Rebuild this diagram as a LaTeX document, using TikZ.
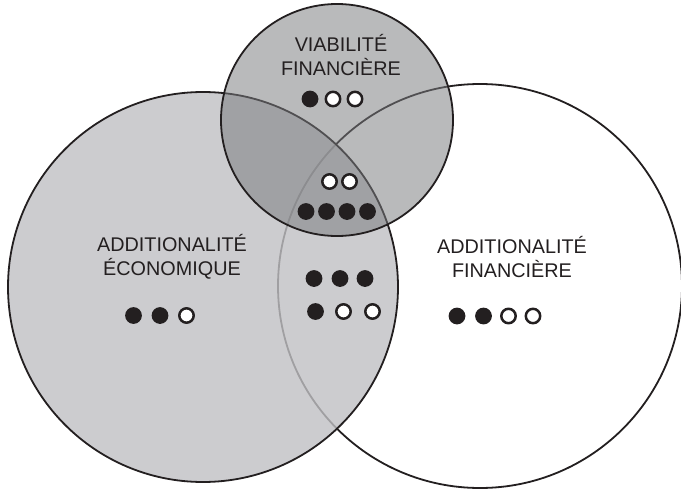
\documentclass[tikz,border=0pt]{standalone}
\usepackage{fontspec}
\setmainfont{Liberation Sans}
\definecolor{ink}{RGB}{35,31,32}
\definecolor{ecofill}{RGB}{192,192,195}
\definecolor{viafill}{RGB}{122,124,127}
\newcommand{\twolines}[2]{\begin{tabular}[t]{@{}c@{}}#1\\#2\end{tabular}}
\begin{document}
\begin{tikzpicture}[x=1pt,y=-1pt,
  ring/.style={line width=1.8pt, draw=ink},
  full/.style={circle, fill=ink, inner sep=0pt, minimum size=16.8pt},
  hollow/.style={circle, draw=ink, fill=white, line width=2.5pt, inner sep=0pt, minimum size=14.4pt},
  caption/.style={font=\fontsize{19.8}{23}\selectfont, text=ink, anchor=base, inner sep=0pt}]
\useasboundingbox (0,0) rectangle (681,490);
\fill[white] (0,0) rectangle (681,490);

% financial additionality (opaque white disc)
\draw[ring, fill=white] (480,286) circle[radius=202pt];
% economic additionality (translucent light grey)
\draw[ring, fill=ecofill, fill opacity=0.8] (203,287) circle[radius=195pt];
% financial viability (translucent mid grey)
\draw[ring, fill=viafill, fill opacity=0.525] (337,120) circle[radius=116pt];

% captions
\node[caption] (via) at (341,51) {\twolines{VIABILITÉ}{FINANCIÈRE}};
\node[caption] (eco) at (172,251) {\twolines{ADDITIONALITÉ}{ÉCONOMIQUE}};
\node[caption] (fin) at (512,253) {\twolines{ADDITIONALITÉ}{FINANCIÈRE}};

% rating dots: viability only
\node[full]   (v1) at (310,99) {};
\node[hollow] (v2) at (333,99) {};
\node[hollow] (v3) at (355,99) {};
% all three
\node[hollow] (c1) at (329.5,181.5) {};
\node[hollow] (c2) at (349.5,181.5) {};
\node[full]   (c3) at (306,211.5) {};
\node[full]   (c4) at (326.5,211.5) {};
\node[full]   (c5) at (347,211.5) {};
\node[full]   (c6) at (367.5,211.5) {};
% economic and financial additionality
\node[full]   (m1) at (314,278.5) {};
\node[full]   (m2) at (340,278.5) {};
\node[full]   (m3) at (365,278.5) {};
\node[full]   (m4) at (315.5,311.5) {};
\node[hollow] (m5) at (343.5,311.5) {};
\node[hollow] (m6) at (372.5,311.5) {};
% economic additionality only
\node[full]   (e1) at (133.5,315.5) {};
\node[full]   (e2) at (160,315.5) {};
\node[hollow] (e3) at (186.5,315.5) {};
% financial additionality only
\node[full]   (f1) at (457,316) {};
\node[full]   (f2) at (483.5,316) {};
\node[hollow] (f3) at (508.5,316) {};
\node[hollow] (f4) at (533,316) {};
\end{tikzpicture}
\end{document}
